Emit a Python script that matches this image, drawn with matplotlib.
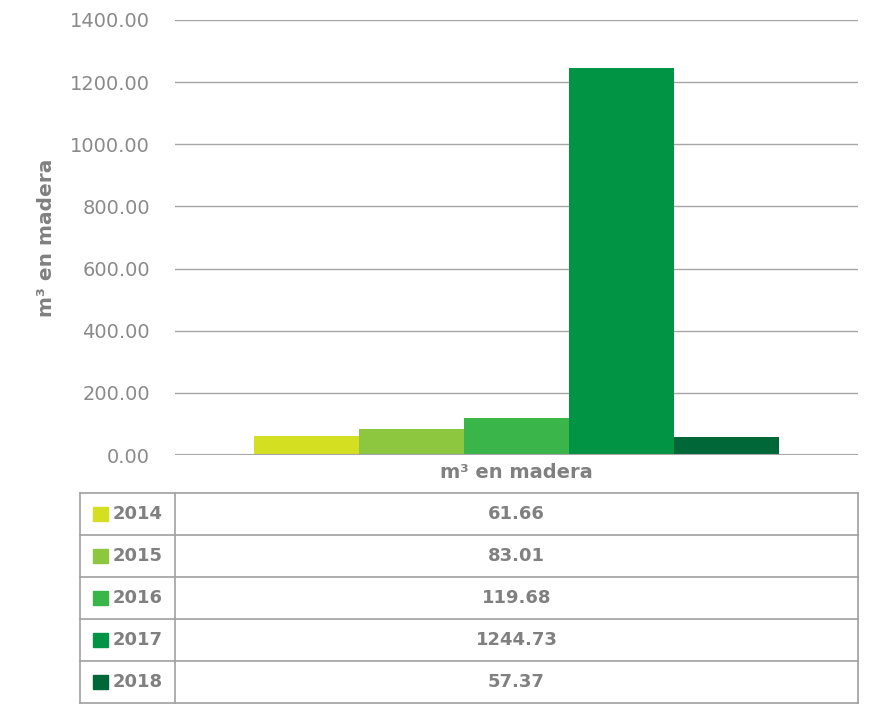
import matplotlib.pyplot as plt
from matplotlib.patches import Rectangle

years = ['2014', '2015', '2016', '2017', '2018']
values = [61.66, 83.01, 119.68, 1244.73, 57.37]
colors = ['#D5DF22', '#8DC63F', '#39B54A', '#009444', '#006838']
category = 'm³ en madera'
yticks = [0, 200, 400, 600, 800, 1000, 1200, 1400]

grey = '#808080'
plt.rcParams['font.family'] = ['DejaVu Sans']

fig = plt.figure(figsize=(8.7, 7.06), dpi=100)

# chart area
ax = fig.add_axes([0.2011, 0.3555, 0.7851, 0.6162])
bar_w = 0.154
n = len(values)
for i, (v, c) in enumerate(zip(values, colors)):
    x = 0.5 + (i - (n - 1) / 2) * bar_w
    ax.bar(x, v, width=bar_w, color=c, zorder=2)
ax.set_xlim(0, 1)
ax.set_ylim(0, 1400)
ax.set_yticks(yticks)
ax.set_yticklabels([f'{t:.2f}' for t in yticks], color='#8a8a8a', fontsize=14)
ax.tick_params(axis='y', length=0, pad=18)
ax.set_xticks([])
ax.grid(axis='y', color='#a6a6a6', linewidth=1, zorder=0)
for s in ax.spines.values():
    s.set_visible(False)
ax.axhline(0, color='#a6a6a6', linewidth=1.5, zorder=3)
ax.set_xlabel(category, color=grey, fontsize=14, fontweight='bold', labelpad=6)
ax.set_ylabel(category, color=grey, fontsize=14.5, fontweight='bold', labelpad=10)

# data table below
tb = fig.add_axes([0.092, 0.0042, 0.894, 0.2975])
tb.set_xlim(0, 1)
tb.set_ylim(0, n)
tb.axis('off')
split = (175 - 80) / (858 - 80)
line_c = '#a0a0a0'
for k in range(n + 1):
    tb.plot([0, 1], [k, k], color=line_c, linewidth=1.2, clip_on=False)
for xv in [0, split, 1]:
    tb.plot([xv, xv], [0, n], color=line_c, linewidth=1.2, clip_on=False)
for i, (yr, v, c) in enumerate(zip(years, values, colors)):
    yc = n - i - 0.5
    tb.add_patch(Rectangle((0.017, yc - 0.17), 0.019, 0.34, color=c))
    tb.text(0.042, yc, yr, color=grey, fontsize=13, fontweight='bold', va='center', ha='left')
    tb.text((split + 1) / 2, yc, f'{v:.2f}', color=grey, fontsize=13, fontweight='bold',
            va='center', ha='center')

fig.savefig('out.png', dpi=100)
